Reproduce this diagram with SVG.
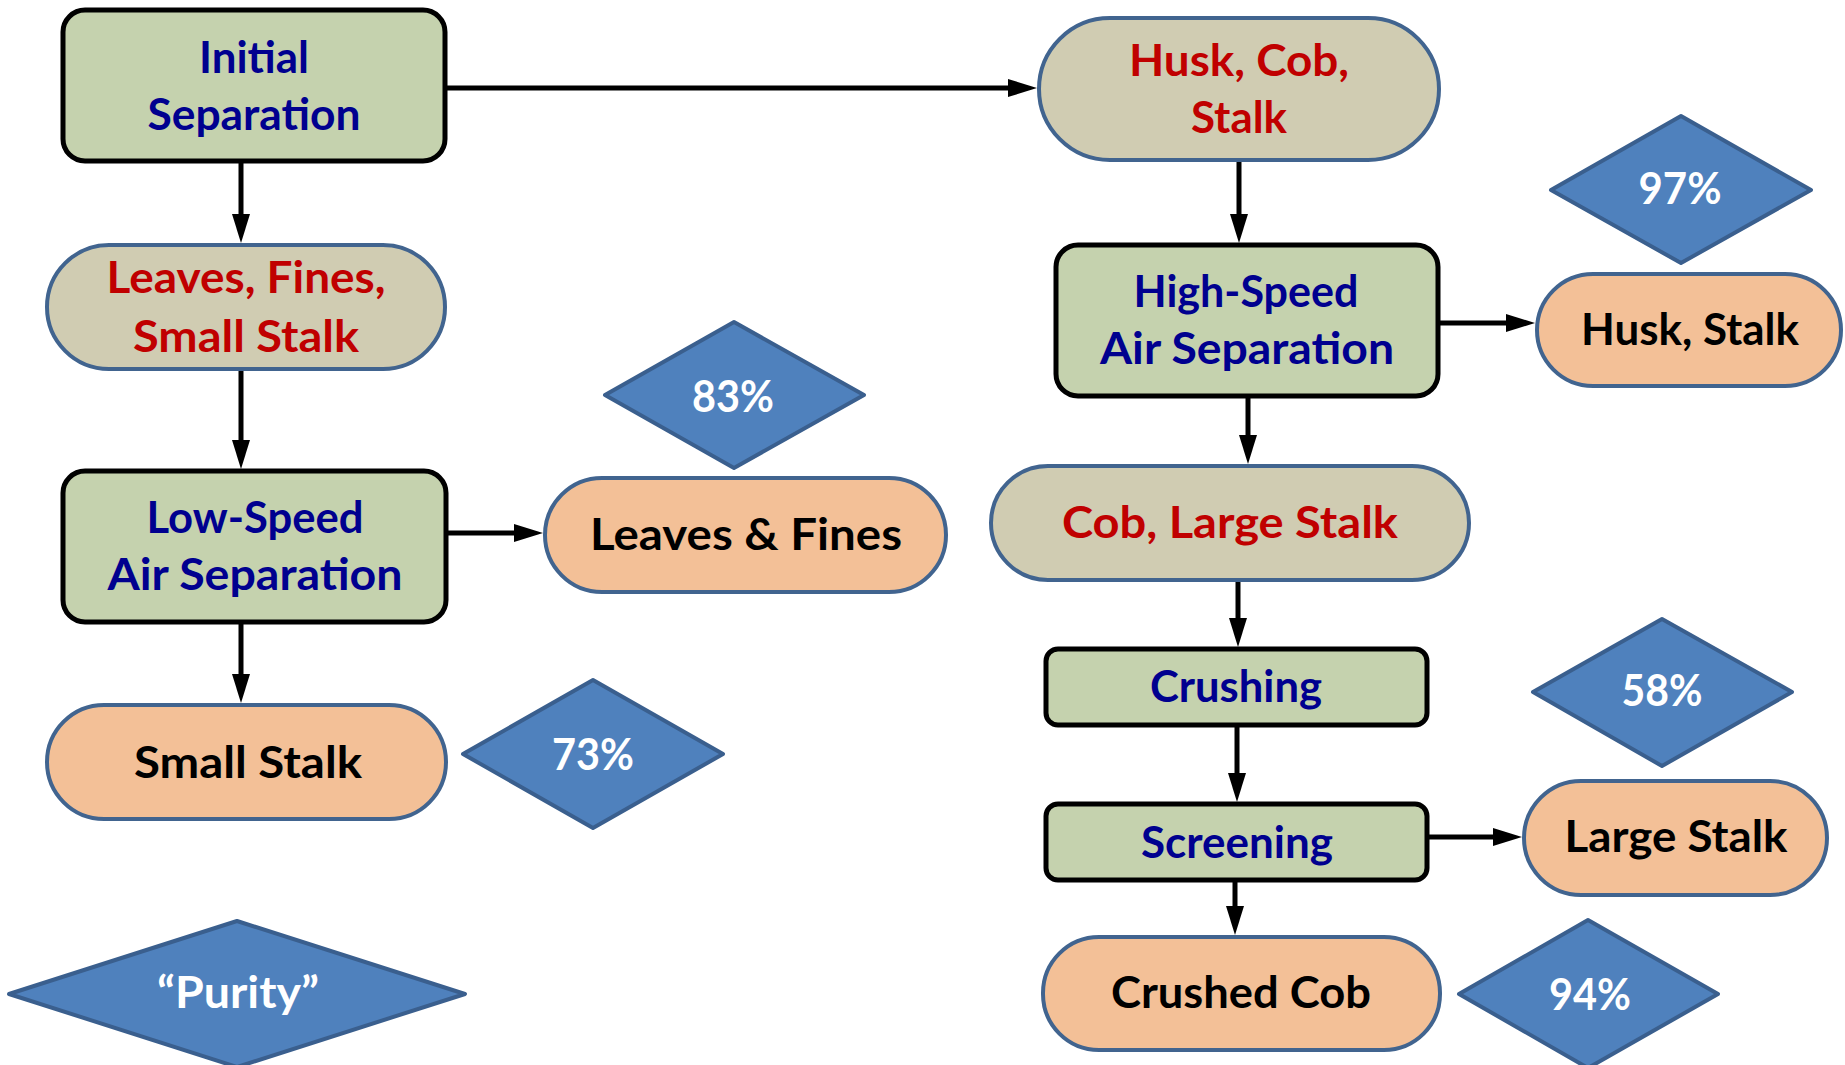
<svg xmlns="http://www.w3.org/2000/svg" width="1845" height="1065" viewBox="0 0 1845 1065">
<style>
text{font-family:Lato,"Open Sans","Liberation Sans",sans-serif;font-weight:bold;font-size:43px;text-anchor:middle}
.proc{fill:#C5D2AE;stroke:#000;stroke-width:5}
.mid{fill:#D0CCB2;stroke:#41648F;stroke-width:4}
.out{fill:#F3C097;stroke:#41648F;stroke-width:4}
.dia{fill:#4F81BD;stroke:#3A5F8E;stroke-width:4;stroke-linejoin:round}
.tb{fill:#00008F}
.tr{fill:#C00000}
.tk{fill:#000}
.tw{fill:#fff}
.con{stroke:#000;stroke-width:5;fill:none;marker-end:url(#ah)}
</style>
<defs>
<marker id="ah" markerUnits="userSpaceOnUse" markerWidth="32" markerHeight="20" refX="8" refY="9" orient="auto">
<path d="M0,0 L29,9 L0,18 z" fill="#000"/>
</marker>
</defs>
<rect width="1845" height="1065" fill="#fff"/>
<g id="connectors">
<line class="con" x1="445" y1="88" x2="1016" y2="88"/>
<line class="con" x1="241" y1="163" x2="241" y2="222"/>
<line class="con" x1="241" y1="371" x2="241" y2="448"/>
<line class="con" x1="448" y1="533" x2="522" y2="533"/>
<line class="con" x1="241" y1="624" x2="241" y2="682"/>
<line class="con" x1="1239" y1="162" x2="1239" y2="222"/>
<line class="con" x1="1440" y1="323" x2="1514" y2="323"/>
<line class="con" x1="1248" y1="398" x2="1248" y2="443"/>
<line class="con" x1="1238" y1="582" x2="1238" y2="626"/>
<line class="con" x1="1237" y1="727" x2="1237" y2="781"/>
<line class="con" x1="1429" y1="837" x2="1501" y2="837"/>
<line class="con" x1="1235" y1="882" x2="1235" y2="914"/>
</g>
<g id="initial-separation">
<rect class="proc" x="63" y="10" width="382" height="151" rx="22"/>
<text class="tb" x="254" y="73" textLength="110" lengthAdjust="spacingAndGlyphs">Initial</text>
<text class="tb" x="254" y="130" textLength="213" lengthAdjust="spacingAndGlyphs">Separation</text>
</g>
<g id="leaves-fines-small-stalk">
<rect class="mid" x="47" y="245" width="398" height="124" rx="62"/>
<text class="tr" x="246" y="293" textLength="279" lengthAdjust="spacingAndGlyphs">Leaves, Fines,</text>
<text class="tr" x="246" y="352" textLength="226" lengthAdjust="spacingAndGlyphs">Small Stalk</text>
</g>
<g id="low-speed">
<rect class="proc" x="63" y="471" width="383" height="151" rx="22"/>
<text class="tb" x="255" y="533" textLength="217" lengthAdjust="spacingAndGlyphs">Low-Speed</text>
<text class="tb" x="255" y="590" textLength="295" lengthAdjust="spacingAndGlyphs">Air Separation</text>
</g>
<g id="leaves-and-fines">
<rect class="out" x="545" y="478" width="401" height="114" rx="57"/>
<text class="tk" x="746" y="550" textLength="312" lengthAdjust="spacingAndGlyphs">Leaves &amp; Fines</text>
</g>
<g id="small-stalk">
<rect class="out" x="47" y="705" width="399" height="114" rx="57"/>
<text class="tk" x="248" y="778" textLength="228" lengthAdjust="spacingAndGlyphs">Small Stalk</text>
</g>
<g id="p73">
<polygon class="dia" points="463,754 593,680 723,754 593,828"/>
<text class="tw" x="593" y="770" textLength="82" lengthAdjust="spacingAndGlyphs">73%</text>
</g>
<g id="p83">
<polygon class="dia" points="605,395 734,322 864,395 734,468"/>
<text class="tw" x="733" y="412" textLength="82" lengthAdjust="spacingAndGlyphs">83%</text>
</g>
<g id="husk-cob-stalk">
<rect class="mid" x="1039" y="18" width="400" height="142" rx="71"/>
<text class="tr" x="1239" y="76" textLength="220" lengthAdjust="spacingAndGlyphs">Husk, Cob,</text>
<text class="tr" x="1239" y="133" textLength="96" lengthAdjust="spacingAndGlyphs">Stalk</text>
</g>
<g id="high-speed">
<rect class="proc" x="1056" y="245" width="382" height="151" rx="22"/>
<text class="tb" x="1246" y="307" textLength="225" lengthAdjust="spacingAndGlyphs">High-Speed</text>
<text class="tb" x="1247" y="364" textLength="294" lengthAdjust="spacingAndGlyphs">Air Separation</text>
</g>
<g id="husk-stalk">
<rect class="out" x="1537" y="274" width="304" height="112" rx="56"/>
<text class="tk" x="1690" y="345" textLength="218" lengthAdjust="spacingAndGlyphs">Husk, Stalk</text>
</g>
<g id="p97">
<polygon class="dia" points="1551,190 1681,116 1811,190 1681,263"/>
<text class="tw" x="1680" y="204" textLength="83" lengthAdjust="spacingAndGlyphs">97%</text>
</g>
<g id="cob-large-stalk">
<rect class="mid" x="991" y="466" width="478" height="114" rx="57"/>
<text class="tr" x="1230" y="538" textLength="336" lengthAdjust="spacingAndGlyphs">Cob, Large Stalk</text>
</g>
<g id="crushing">
<rect class="proc" x="1046" y="649" width="381" height="76" rx="12"/>
<text class="tb" x="1236" y="702" textLength="172" lengthAdjust="spacingAndGlyphs">Crushing</text>
</g>
<g id="screening">
<rect class="proc" x="1046" y="804" width="381" height="76" rx="12"/>
<text class="tb" x="1237" y="858" textLength="192" lengthAdjust="spacingAndGlyphs">Screening</text>
</g>
<g id="large-stalk">
<rect class="out" x="1524" y="781" width="303" height="114" rx="57"/>
<text class="tk" x="1676" y="852" textLength="223" lengthAdjust="spacingAndGlyphs">Large Stalk</text>
</g>
<g id="p58">
<polygon class="dia" points="1533,692 1662,619 1792,692 1662,766"/>
<text class="tw" x="1662" y="706" textLength="81" lengthAdjust="spacingAndGlyphs">58%</text>
</g>
<g id="crushed-cob">
<rect class="out" x="1043" y="937" width="397" height="113" rx="56"/>
<text class="tk" x="1241" y="1008" textLength="260" lengthAdjust="spacingAndGlyphs">Crushed Cob</text>
</g>
<g id="p94">
<polygon class="dia" points="1459,994 1588,920 1718,994 1588,1068"/>
<text class="tw" x="1590" y="1010" textLength="82" lengthAdjust="spacingAndGlyphs">94%</text>
</g>
<g id="purity">
<polygon class="dia" points="9,994 237,921 465,994 237,1067"/>
<text class="tw" x="238" y="1008" textLength="162" lengthAdjust="spacingAndGlyphs">“Purity”</text>
</g>
</svg>
